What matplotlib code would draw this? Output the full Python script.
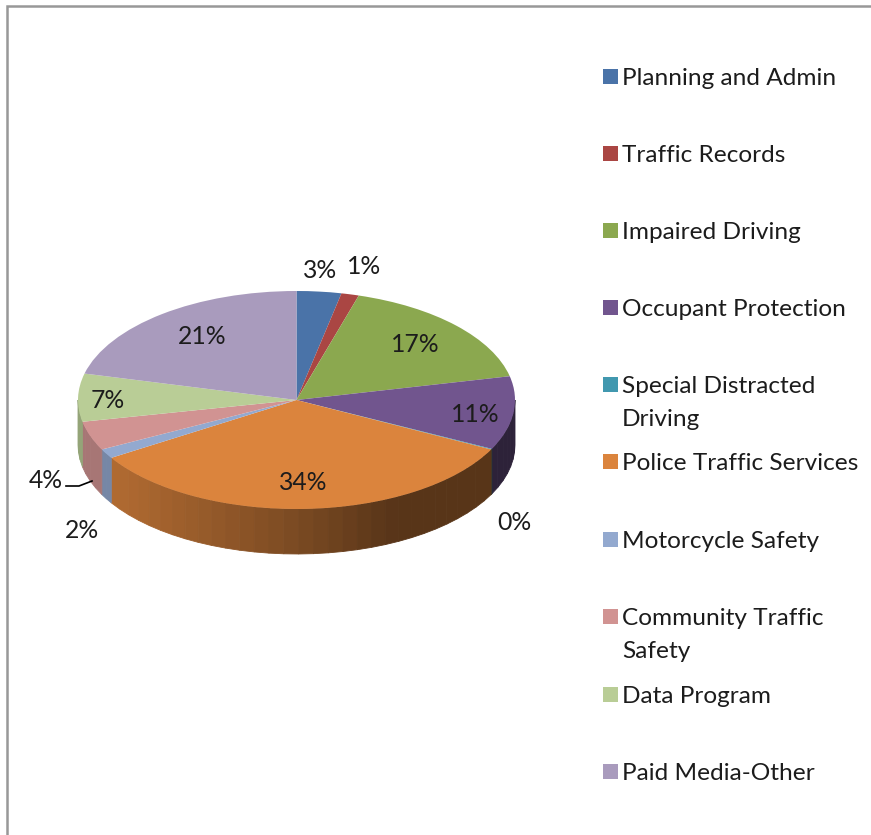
import numpy as np
import matplotlib
matplotlib.use("Agg")
import matplotlib.pyplot as plt
from matplotlib.patches import Rectangle
from matplotlib.colors import to_rgb

categories = ["Planning and Admin", "Traffic Records", "Impaired Driving", "Occupant Protection",
              "Special Distracted\nDriving", "Police Traffic Services", "Motorcycle Safety",
              "Community Traffic\nSafety", "Data Program", "Paid Media-Other"]
values = [3.3, 1.3, 16.9, 10.9, 0.1, 33.6, 1.4, 4.3, 7.1, 21.1]
pct_labels = ["3%", "1%", "17%", "11%", "0%", "34%", "2%", "4%", "7%", "21%"]
colors = ["#4A73A8", "#AA4643", "#8BA84F", "#71558E", "#4198AF",
          "#DB843D", "#93A9CF", "#D19392", "#B9CD96", "#A99BBD"]

# layout, in pixels of the 871x835 picture
W, H = 871, 835
label_xy = [(320, 270), (364, 266), (415, 344), (475, 414), (514, 523),
            (303, 483), (82, 531), (46, 481), (108, 401), (202, 336)]
legend_y = [76, 153, 230, 307, 384, 461, 539, 616, 694, 771]
pie_left, pie_right, pie_top, pie_bottom = 78, 515, 291, 509
depth = 45 / ((pie_bottom - pie_top) / 2)

plt.rcParams["font.family"] = ["Lato", "DejaVu Sans"]
fig = plt.figure(figsize=(W / 100, H / 100), dpi=100)

# pie axes: x and y scales differ, this gives the tilted ellipse
ax = fig.add_axes([pie_left / W, 1 - pie_bottom / H, (pie_right - pie_left) / W, (pie_bottom - pie_top) / H])
edges = 90 - 360 * np.cumsum([0] + values) / sum(values)

# side wall, front half only, darker towards the right
for i, col in enumerate(colors):
    a0, a1 = max(edges[i + 1], -180), min(edges[i], 0)
    if a1 <= a0:
        continue
    steps = np.linspace(a0, a1, int((a1 - a0) / 4) + 2)
    for s0, s1 in zip(steps[:-1], steps[1:]):
        x0, x1 = np.cos(np.radians(s0)), np.cos(np.radians(s1))
        y0, y1 = np.sin(np.radians(s0)), np.sin(np.radians(s1))
        xm = (x0 + x1) / 2
        f = np.interp(xm, [-1, -0.8, 0, 0.45, 1], [0.80, 0.80, 0.56, 0.40, 0.40])
        c = tuple(v * f for v in to_rgb(col))
        ax.fill([x0, x1, x1, x0], [y0, y1, y1 - depth, y0 - depth], color=c, lw=0.6, clip_on=False)

ax.pie(values, colors=colors, startangle=90, counterclock=False, radius=1,
       wedgeprops={"linewidth": 0})
ax.set_aspect("auto")
ax.set_xlim(-1, 1)
ax.set_ylim(-1, 1)
for w in ax.patches:
    w.set_clip_on(False)
ax.axis("off")

# overlay in pixel coordinates: frame, legend, labels
top = fig.add_axes([0, 0, 1, 1], facecolor="none")
top.set_xlim(0, W)
top.set_ylim(H, 0)
top.axis("off")
top.plot([7, 7, W], [H, 5.5, 5.5], color="#989898", lw=1.8, solid_joinstyle="miter")

for name, col, y in zip(categories, colors, legend_y):
    top.add_patch(Rectangle((603, y - 7.5), 14.5, 15, color=col, lw=0))
    for k, line in enumerate(name.split("\n")):
        top.text(622, y + 9 + 33 * k, line, fontsize=17.6, color="#1c1c1c", va="baseline", ha="left")

for txt, (x, y) in zip(pct_labels, label_xy):
    top.text(x, y, txt, fontsize=17.8, color="#1c1c1c", ha="center", va="center")

# leader line of the 4% label
top.plot([66, 79, 92], [486, 486, 481], color="black", lw=1.2)

fig.savefig("out.png", dpi=100)
